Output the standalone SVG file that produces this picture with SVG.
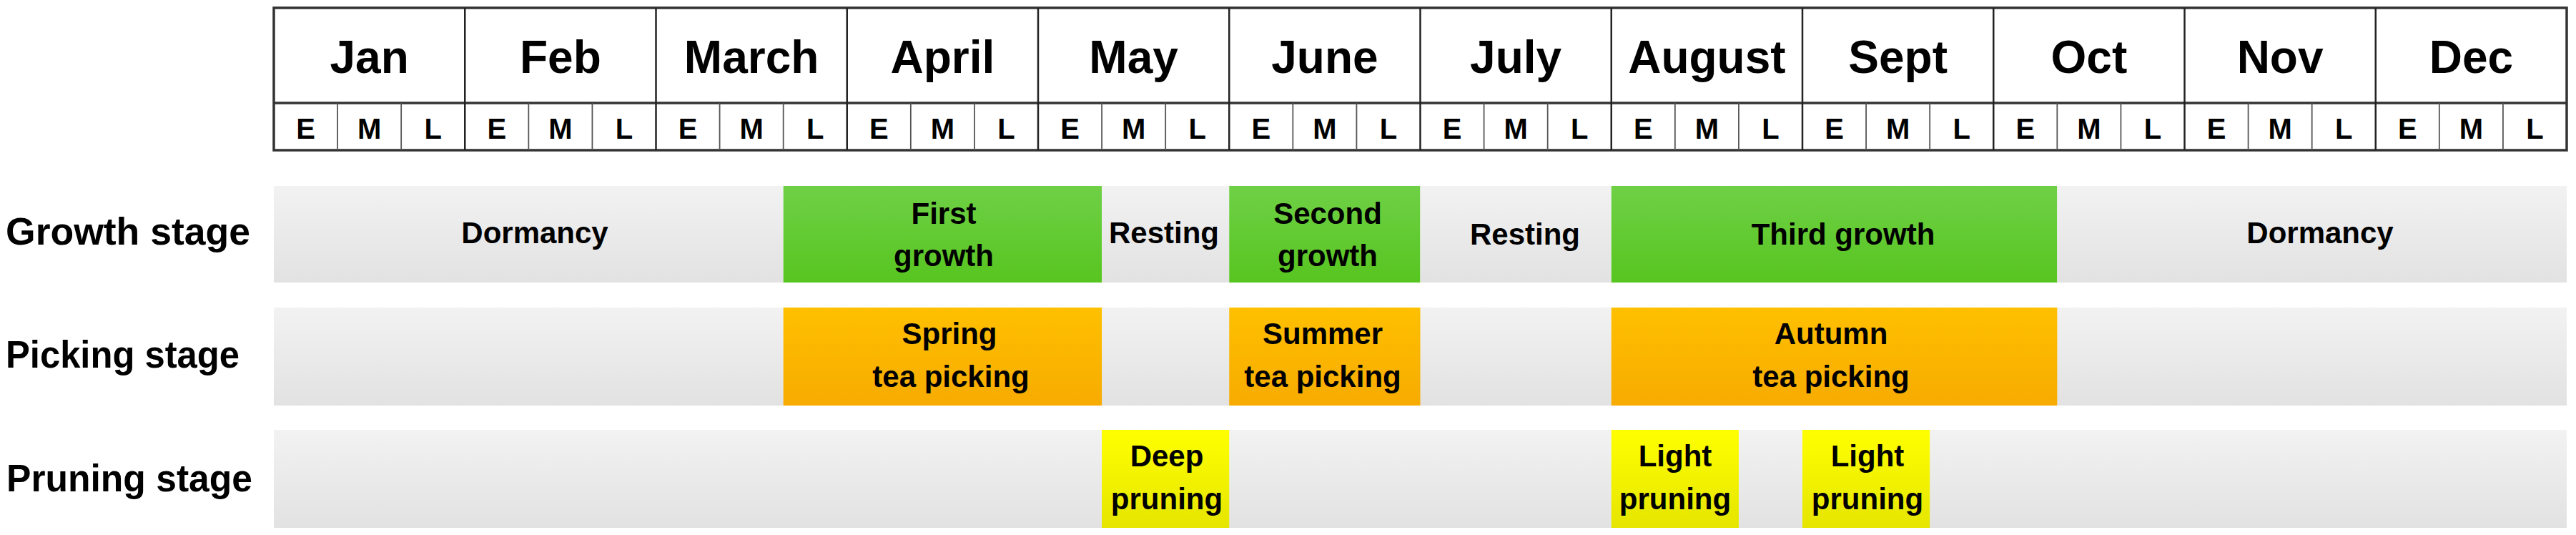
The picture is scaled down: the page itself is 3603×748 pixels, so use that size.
<svg xmlns="http://www.w3.org/2000/svg" width="3603" height="748" viewBox="0 0 3603 748">
<defs>
<linearGradient id="gGrey" x1="0" y1="0" x2="0" y2="1"><stop offset="0" stop-color="#f2f2f2"/><stop offset="1" stop-color="#e2e2e2"/></linearGradient>
<linearGradient id="gGreen" x1="0" y1="0" x2="0" y2="1"><stop offset="0" stop-color="#6fd046"/><stop offset="1" stop-color="#57c520"/></linearGradient>
<linearGradient id="gOrange" x1="0" y1="0" x2="0" y2="1"><stop offset="0" stop-color="#ffc000"/><stop offset="1" stop-color="#f7ab00"/></linearGradient>
<linearGradient id="gYellow" x1="0" y1="0" x2="0" y2="1"><stop offset="0" stop-color="#ffff00"/><stop offset="1" stop-color="#e5e500"/></linearGradient>
</defs>
<style>
text{font-family:"Liberation Sans",Arial,sans-serif;font-weight:bold;fill:#000;text-anchor:middle}
.mon{font-size:64px}
.sub{font-size:40px}
.lbl{font-size:42px}
.row{font-size:54px;text-anchor:start}
.grey{fill:url(#gGrey)}
.green{fill:url(#gGreen)}
.orange{fill:url(#gOrange)}
.yellow{fill:url(#gYellow)}
.mline{stroke:#222;stroke-width:2.5}
.sline{stroke:#555;stroke-width:1.8}
.frame{fill:#fff;stroke:#333;stroke-width:3.5}
</style>
<rect width="3603" height="748" fill="#fff"/>

<g id="calendar">
<rect class="frame" x="383" y="11" width="3207" height="199"/>
<line x1="383" y1="144" x2="3590" y2="144" stroke="#333" stroke-width="3.5"/>
<g class="mline">
<line x1="650.25" y1="11" x2="650.25" y2="210"/>
<line x1="917.5" y1="11" x2="917.5" y2="210"/>
<line x1="1184.75" y1="11" x2="1184.75" y2="210"/>
<line x1="1452" y1="11" x2="1452" y2="210"/>
<line x1="1719.25" y1="11" x2="1719.25" y2="210"/>
<line x1="1986.5" y1="11" x2="1986.5" y2="210"/>
<line x1="2253.75" y1="11" x2="2253.75" y2="210"/>
<line x1="2521" y1="11" x2="2521" y2="210"/>
<line x1="2788.25" y1="11" x2="2788.25" y2="210"/>
<line x1="3055.5" y1="11" x2="3055.5" y2="210"/>
<line x1="3322.75" y1="11" x2="3322.75" y2="210"/>
</g>
<g class="sline">
<line x1="472.08" y1="144" x2="472.08" y2="210"/><line x1="561.17" y1="144" x2="561.17" y2="210"/>
<line x1="739.33" y1="144" x2="739.33" y2="210"/><line x1="828.42" y1="144" x2="828.42" y2="210"/>
<line x1="1006.58" y1="144" x2="1006.58" y2="210"/><line x1="1095.67" y1="144" x2="1095.67" y2="210"/>
<line x1="1273.83" y1="144" x2="1273.83" y2="210"/><line x1="1362.92" y1="144" x2="1362.92" y2="210"/>
<line x1="1541.08" y1="144" x2="1541.08" y2="210"/><line x1="1630.17" y1="144" x2="1630.17" y2="210"/>
<line x1="1808.33" y1="144" x2="1808.33" y2="210"/><line x1="1897.42" y1="144" x2="1897.42" y2="210"/>
<line x1="2075.58" y1="144" x2="2075.58" y2="210"/><line x1="2164.67" y1="144" x2="2164.67" y2="210"/>
<line x1="2342.83" y1="144" x2="2342.83" y2="210"/><line x1="2431.92" y1="144" x2="2431.92" y2="210"/>
<line x1="2610.08" y1="144" x2="2610.08" y2="210"/><line x1="2699.17" y1="144" x2="2699.17" y2="210"/>
<line x1="2877.33" y1="144" x2="2877.33" y2="210"/><line x1="2966.42" y1="144" x2="2966.42" y2="210"/>
<line x1="3144.58" y1="144" x2="3144.58" y2="210"/><line x1="3233.67" y1="144" x2="3233.67" y2="210"/>
<line x1="3411.83" y1="144" x2="3411.83" y2="210"/><line x1="3500.92" y1="144" x2="3500.92" y2="210"/>
</g>
<g class="mon">
<text x="516.6" y="102">Jan</text>
<text x="783.9" y="102">Feb</text>
<text x="1051.1" y="102">March</text>
<text x="1318.4" y="102">April</text>
<text x="1585.6" y="102">May</text>
<text x="1852.9" y="102">June</text>
<text x="2120.1" y="102">July</text>
<text x="2387.4" y="102">August</text>
<text x="2654.6" y="102">Sept</text>
<text x="2921.9" y="102">Oct</text>
<text x="3189.1" y="102">Nov</text>
<text x="3456.4" y="102">Dec</text>
</g>
<g class="sub">
<text x="427.5" y="194">E</text><text x="516.6" y="194">M</text><text x="605.7" y="194">L</text>
<text x="694.8" y="194">E</text><text x="783.9" y="194">M</text><text x="873" y="194">L</text>
<text x="962" y="194">E</text><text x="1051.1" y="194">M</text><text x="1140.2" y="194">L</text>
<text x="1229.3" y="194">E</text><text x="1318.4" y="194">M</text><text x="1407.5" y="194">L</text>
<text x="1496.5" y="194">E</text><text x="1585.6" y="194">M</text><text x="1674.7" y="194">L</text>
<text x="1763.8" y="194">E</text><text x="1852.9" y="194">M</text><text x="1942" y="194">L</text>
<text x="2031" y="194">E</text><text x="2120.1" y="194">M</text><text x="2209.2" y="194">L</text>
<text x="2298.3" y="194">E</text><text x="2387.4" y="194">M</text><text x="2476.5" y="194">L</text>
<text x="2565.5" y="194">E</text><text x="2654.6" y="194">M</text><text x="2743.7" y="194">L</text>
<text x="2832.8" y="194">E</text><text x="2921.9" y="194">M</text><text x="3011" y="194">L</text>
<text x="3100" y="194">E</text><text x="3189.1" y="194">M</text><text x="3278.2" y="194">L</text>
<text x="3367.3" y="194">E</text><text x="3456.4" y="194">M</text><text x="3545.5" y="194">L</text>
</g>
</g>

<g id="row-labels">
<text class="row" x="8" y="342" textLength="342" lengthAdjust="spacingAndGlyphs">Growth stage</text>
<text class="row" x="8" y="514" textLength="327" lengthAdjust="spacingAndGlyphs">Picking stage</text>
<text class="row" x="9" y="687" textLength="344" lengthAdjust="spacingAndGlyphs">Pruning stage</text>
</g>

<g id="growth-row">
<g id="dormancy-1"><rect class="grey" x="383" y="260" width="712.67" height="135"/><text class="lbl" x="748" y="340">Dormancy</text></g>
<g id="first-growth"><rect class="green" x="1095.67" y="260" width="445.41" height="135"/><text class="lbl" x="1320" y="313">First</text><text class="lbl" x="1320" y="372">growth</text></g>
<g id="resting-1"><rect class="grey" x="1541.08" y="260" width="178.17" height="135"/><text class="lbl" x="1628" y="340">Resting</text></g>
<g id="second-growth"><rect class="green" x="1719.25" y="260" width="267.25" height="135"/><text class="lbl" x="1857" y="313">Second</text><text class="lbl" x="1857" y="372">growth</text></g>
<g id="resting-2"><rect class="grey" x="1986.5" y="260" width="267.25" height="135"/><text class="lbl" x="2133" y="342">Resting</text></g>
<g id="third-growth"><rect class="green" x="2253.75" y="260" width="623.58" height="135"/><text class="lbl" x="2578" y="342">Third growth</text></g>
<g id="dormancy-2"><rect class="grey" x="2877.33" y="260" width="712.67" height="135"/><text class="lbl" x="3245" y="340">Dormancy</text></g>
</g>

<g id="picking-row">
<rect class="grey" x="383" y="430" width="3207" height="137"/>
<g id="spring-picking"><rect class="orange" x="1095.67" y="430" width="445.41" height="137"/><text class="lbl" x="1328" y="481">Spring</text><text class="lbl" x="1330" y="541">tea picking</text></g>
<g id="summer-picking"><rect class="orange" x="1719.25" y="430" width="267.25" height="137"/><text class="lbl" x="1850" y="481">Summer</text><text class="lbl" x="1850" y="541">tea picking</text></g>
<g id="autumn-picking"><rect class="orange" x="2253.75" y="430" width="623.58" height="137"/><text class="lbl" x="2561" y="481">Autumn</text><text class="lbl" x="2561" y="541">tea picking</text></g>
</g>

<g id="pruning-row">
<rect class="grey" x="383" y="601" width="3207" height="137"/>
<g id="deep-pruning"><rect class="yellow" x="1541.08" y="601" width="178.17" height="137"/><text class="lbl" x="1632" y="652">Deep</text><text class="lbl" x="1632" y="712">pruning</text></g>
<g id="light-pruning-1"><rect class="yellow" x="2253.75" y="601" width="178.17" height="137"/><text class="lbl" x="2343" y="652">Light</text><text class="lbl" x="2343" y="712">pruning</text></g>
<g id="light-pruning-2"><rect class="yellow" x="2521" y="601" width="178.17" height="137"/><text class="lbl" x="2612" y="652">Light</text><text class="lbl" x="2612" y="712">pruning</text></g>
</g>

<g id="connectors"/>
</svg>
